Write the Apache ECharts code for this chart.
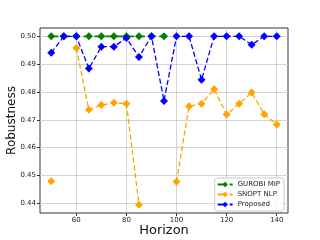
<!DOCTYPE html>
<html>
<head>
<meta charset="utf-8">
<script src="https://cdn.jsdelivr.net/npm/echarts@6/dist/echarts.min.js"></script>
<style>
  html, body { margin: 0; padding: 0; background: #fff; }
  #chart { width: 320px; height: 240px; }
</style>
</head>
<body>
<div id="chart"></div>
<script>
// horizons on the x axis
const horizons = [50, 55, 60, 65, 70, 75, 80, 85, 90, 95, 100, 105, 110, 115, 120, 125, 130, 135, 140];
// robustness per method (null = no result)
const gurobi = [0.500, 0.500, 0.500, 0.500, 0.500, 0.500, 0.500, 0.500, 0.500, 0.500, null, null, null, null, null, null, null, null, null];
const snopt = [0.4479, null, 0.4958, 0.4736, 0.4753, 0.4761, 0.4758, 0.4395, null, null, 0.4477, 0.4749, 0.4758, 0.4810, 0.4719, 0.4758, 0.4798, 0.4720, 0.4683];
const proposed = [0.4941, 0.500, 0.500, 0.4884, 0.4963, 0.4963, 0.4994, 0.4926, 0.500, 0.4768, 0.500, 0.500, 0.4844, 0.500, 0.500, 0.500, 0.497, 0.500, 0.500];
const xTicks = [60, 80, 100, 120, 140];
const yTicks = [0.44, 0.45, 0.46, 0.47, 0.48, 0.49, 0.50];

function pairs(vals) {
  return horizons.map((h, i) => [h, vals[i]]);
}

function makeSeries(name, vals, color, width) {
  return {
    name: name,
    type: 'line',
    data: pairs(vals),
    connectNulls: false,
    symbol: 'diamond',
    symbolSize: 8,
    color: color,
    lineStyle: { type: 'dashed', width: width, color: color },
    itemStyle: { color: color },
    animation: false
  };
}

const chart = echarts.init(document.getElementById('chart'), null, { renderer: 'canvas' });
chart.setOption({
  backgroundColor: '#fff',
  animation: false,
  grid: {
    left: 40, right: 32, top: 28, bottom: 27,
    outerBoundsMode: 'none',
    show: true, borderColor: '#333', borderWidth: 1
  },
  legend: {
    right: 36,
    bottom: 29,
    orient: 'vertical',
    itemGap: 3,
    itemWidth: 15,
    itemHeight: 7,
    padding: [3, 4, 3, 2],
    borderColor: '#ccc',
    borderWidth: 1,
    borderRadius: 2,
    backgroundColor: 'rgba(255,255,255,0.85)',
    textStyle: { fontSize: 7, color: '#222', fontFamily: 'DejaVu Sans' },
    data: ['GUROBI MIP', 'SNOPT NLP', 'Proposed']
  },
  xAxis: {
    type: 'value',
    min: 45.5,
    max: 144.5,
    name: 'Horizon',
    nameLocation: 'middle',
    nameGap: 11,
    nameMoveOverlap: false,
    nameTextStyle: { fontSize: 13, color: '#111', fontFamily: 'DejaVu Sans' },
    axisLine: { show: false },
    axisTick: { show: true, customValues: xTicks, length: 3, lineStyle: { color: '#333' } },
    axisLabel: { customValues: xTicks, fontSize: 7, color: '#222', margin: 4, fontFamily: 'DejaVu Sans' },
    splitLine: { show: true, lineStyle: { color: '#c8c8c8', width: 0.8 } }
  },
  yAxis: {
    type: 'value',
    min: 0.4365,
    max: 0.503,
    name: 'Robustness',
    nameLocation: 'middle',
    nameGap: 22,
    nameMoveOverlap: false,
    nameTextStyle: { fontSize: 12, color: '#111', fontFamily: 'DejaVu Sans' },
    axisLine: { show: false },
    axisTick: { show: true, customValues: yTicks, length: 3, lineStyle: { color: '#333' } },
    axisLabel: {
      customValues: yTicks, fontSize: 7, color: '#222', margin: 4, fontFamily: 'DejaVu Sans',
      formatter: v => v.toFixed(2)
    },
    splitLine: { show: true, lineStyle: { color: '#c8c8c8', width: 0.8 } }
  },
  series: [
    makeSeries('GUROBI MIP', gurobi, 'green', 1.8),
    makeSeries('SNOPT NLP', snopt, 'orange', 1.3),
    makeSeries('Proposed', proposed, 'blue', 1.3)
  ]
});
</script>
</body>
</html>
